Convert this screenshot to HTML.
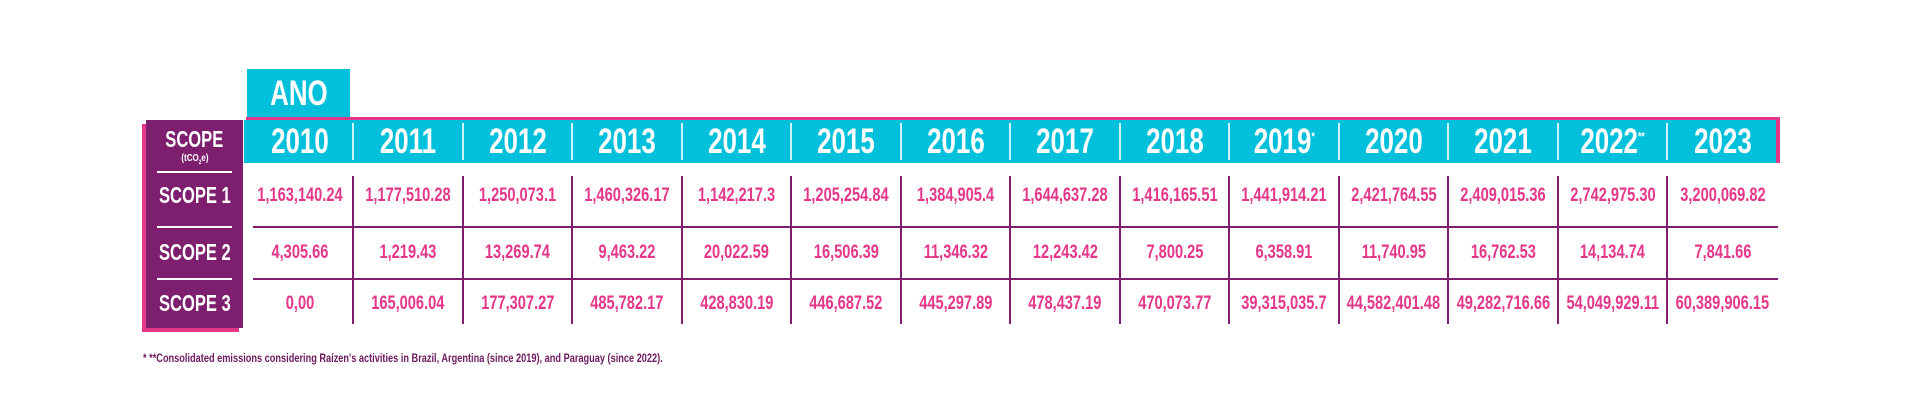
<!DOCTYPE html>
<html><head><meta charset="utf-8"><style>
body{margin:0;width:1920px;height:420px;background:#fff;position:relative;overflow:hidden;font-family:"Liberation Sans",sans-serif;font-weight:bold}
.a{position:absolute}
.t{position:absolute;display:flex;align-items:center;justify-content:center;white-space:nowrap}
.t span{display:inline-block}
.yr{color:#fff;font-size:35px}
.yr span{transform:scaleX(.74)}
.v{color:#e5378a;font-size:19.5px}
.v span{transform:scaleX(.75)}
.s{color:#fff;font-size:23px}
.s span{transform:scaleX(.72)}
</style></head><body>
<div class="a" style="left:247px;top:69px;width:103px;height:49px;background:#00c0dc"></div>
<div class="t yr" style="left:247px;top:69px;width:103px;height:49px"><span>ANO</span></div>
<div class="a" style="left:246px;top:117px;width:1534px;height:3px;background:#e5378a"></div>
<div class="a" style="left:1776px;top:117px;width:4px;height:46px;background:#e5378a"></div>
<div class="a" style="left:244px;top:120px;width:1532px;height:43px;background:#00c0dc"></div>
<div class="a" style="left:142px;top:124px;width:97px;height:208px;background:#e5378a"></div>
<div class="a" style="left:146px;top:120px;width:97px;height:208px;background:#7d1f6e"></div>
<div class="t s" style="left:146px;top:124px;width:97px;height:30px"><span>SCOPE</span></div>
<div class="t" style="left:146px;top:152px;width:97px;height:14px;color:#fff;font-size:10px"><span style="transform:scaleX(.8)">(tCO<sub style="font-size:6px">2</sub>e)</span></div>
<div class="a" style="left:157px;top:171px;width:75px;height:2px;background:#fff"></div>
<div class="a" style="left:157px;top:226px;width:75px;height:2px;background:#fff"></div>
<div class="a" style="left:157px;top:278px;width:75px;height:2px;background:#fff"></div>
<div class="t s" style="left:146px;top:180px;width:97px;height:30px"><span>SCOPE 1</span></div>
<div class="t s" style="left:146px;top:237px;width:97px;height:30px"><span>SCOPE 2</span></div>
<div class="t s" style="left:146px;top:288px;width:97px;height:30px"><span>SCOPE 3</span></div>
<div class="a" style="left:253px;top:226px;width:1525px;height:2px;background:#7d1f6e"></div>
<div class="a" style="left:253px;top:278px;width:1525px;height:2px;background:#7d1f6e"></div>
<div id="g"></div>
<div class="a" style="left:143px;top:353px;font-size:11.5px;color:#6d1a60;white-space:nowrap;transform-origin:0 0;transform:scaleX(.8)">* **Consolidated emissions considering Raízen's activities in Brazil, Argentina (since 2019), and Paraguay (since 2022).</div>
<script>
var yrs=["2010","2011","2012","2013","2014","2015","2016","2017","2018","2019<sup style='font-size:12px'>*</sup>","2020","2021","2022<sup style='font-size:12px'>**</sup>","2023"];
var r1=["1,163,140.24","1,177,510.28","1,250,073.1","1,460,326.17","1,142,217.3","1,205,254.84","1,384,905.4","1,644,637.28","1,416,165.51","1,441,914.21","2,421,764.55","2,409,015.36","2,742,975.30","3,200,069.82"];
var r2=["4,305.66","1,219.43","13,269.74","9,463.22","20,022.59","16,506.39","11,346.32","12,243.42","7,800.25","6,358.91","11,740.95","16,762.53","14,134.74","7,841.66"];
var r3=["0,00","165,006.04","177,307.27","485,782.17","428,830.19","446,687.52","445,297.89","478,437.19","470,073.77","39,315,035.7","44,582,401.48","49,282,716.66","54,049,929.11","60,389,906.15"];
var h="",edges=[246];for(var k=0;k<13;k++)edges.push(Math.round(353+109.5*k));edges.push(1778);
for(var i=0;i<14;i++){var x=edges[i],w=edges[i+1]-x;
h+='<div class="t yr" style="left:'+x+'px;top:120px;width:'+w+'px;height:43px"><span>'+yrs[i]+'</span></div>';
h+='<div class="t v" style="left:'+x+'px;top:181px;width:'+w+'px;height:28px"><span>'+r1[i]+'</span></div>';
h+='<div class="t v" style="left:'+x+'px;top:238px;width:'+w+'px;height:28px"><span>'+r2[i]+'</span></div>';
h+='<div class="t v" style="left:'+x+'px;top:289px;width:'+w+'px;height:28px"><span>'+r3[i]+'</span></div>';
if(i>0){h+='<div class="a" style="left:'+(x-1)+'px;top:123px;width:2px;height:37px;background:#fff;opacity:.8"></div>';
h+='<div class="a" style="left:'+(x-1)+'px;top:176px;width:2px;height:148px;background:#7d1f6e"></div>';}}
document.getElementById("g").innerHTML=h;
</script>
</body></html>
